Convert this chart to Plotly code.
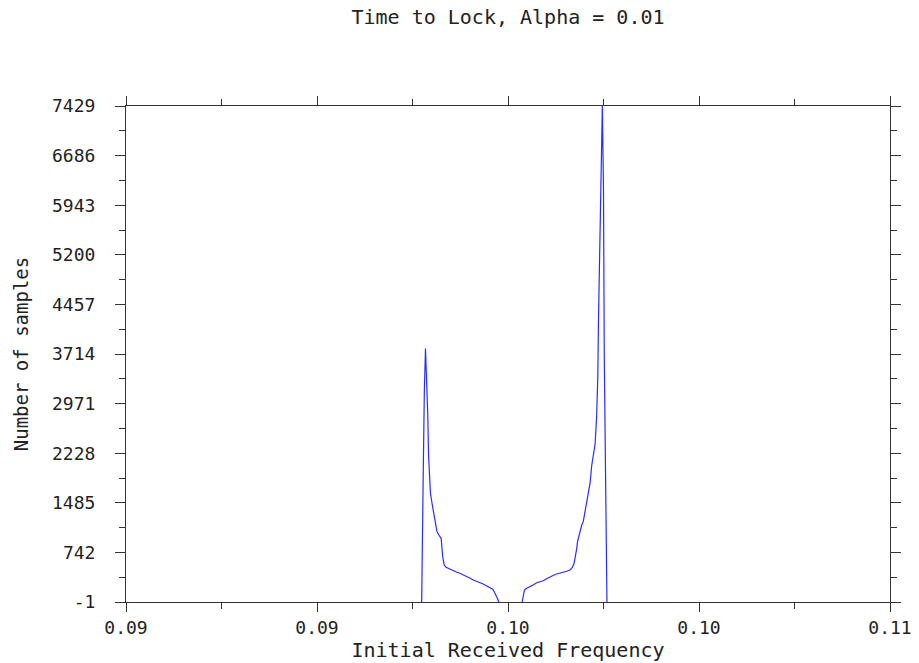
import plotly.graph_objects as go

# ---- data (None = no lock / line hidden on the baseline) ----
freq = [0.09774, 0.09775, 0.09778, 0.09781, 0.09784, 0.09786, 0.09788,
        0.09790, 0.09792, 0.09797, 0.09801, 0.09805, 0.09810, 0.09814, 0.09819,
        0.09825, 0.09829, 0.09833, 0.09838, 0.09848, 0.09857, 0.09866, 0.09874,
        0.09883, 0.09892, 0.09901, 0.09909, 0.09918, 0.09927, 0.09935, 0.09944,
        0.09953, 0.09960, 0.09964, 0.09969, 0.09972, 0.09976,
        None,
        0.10037, 0.10043, 0.10049, 0.10058, 0.10066, 0.10075, 0.10084, 0.10092,
        0.10101, 0.10110, 0.10119, 0.10127, 0.10136, 0.10145, 0.10154, 0.10162,
        0.10168, 0.10173, 0.10177, 0.10180, 0.10182, 0.10186, 0.10190, 0.10193,
        0.10197, 0.10202, 0.10206, 0.10210, 0.10215, 0.10219, 0.10223, 0.10228,
        0.10232, 0.10235, 0.10237, 0.10240, 0.10243, 0.10245, 0.10247, 0.10250,
        0.10252, 0.10256, 0.10259]
samples = [-1, 643, 1887, 3160, 3796, 3459, 3175,
           2800, 2201, 1632, 1482, 1347, 1227, 1055, 1003,
           953, 678, 553, 519, 489, 468, 444, 429,
           408, 378, 354, 329, 303, 288, 269, 243,
           219, 189, 153, 104, 54, -1,
           None,
           -1, 179, 204, 228, 254, 288, 303, 318,
           348, 378, 399, 418, 429, 444, 459, 478,
           513, 579, 678, 803, 902, 1003, 1078, 1152,
           1202, 1367, 1502, 1651, 1786, 2036, 2201, 2366,
           2775, 3350, 4273, 5531, 6171, 6800, 7429, 6171,
           3699, 1227, -1]

x_tickvals = [0.09, 0.095, 0.10, 0.105, 0.11]
x_ticktext = ["0.09", "0.09", "0.10", "0.10", "0.11"]
x_minorvals = [0.0925, 0.0975, 0.1025, 0.1075]
y_tickvals = [-1, 742, 1485, 2228, 2971, 3714, 4457, 5200, 5943, 6686, 7429]
y_ticktext = ["-1", "742", "1485", "2228", "2971", "3714", "4457", "5200", "5943", "6686", "7429"]
y_minorvals = [370.5, 1113.5, 1856.5, 2599.5, 3342.5, 4085.5, 4828.5, 5571.5, 6314.5, 7057.5]

FONT = "DejaVu Sans Mono"
AX = "#333333"
TXT = "#222222"

fig = go.Figure()
fig.add_trace(go.Scatter(x=freq, y=samples, mode="lines",
                         line=dict(color="#2b2bff", width=1.2),
                         connectgaps=False, showlegend=False, hoverinfo="x+y"))

fig.update_layout(
    width=919, height=663,
    margin=dict(l=126, r=29, t=106, b=61, autoexpand=False),
    paper_bgcolor="white", plot_bgcolor="white",
    font=dict(family=FONT, size=18, color=TXT),
    title=dict(text="Time to Lock, Alpha = 0.01", x=0.5, xref="paper",
               y=1 - 17 / 663, yref="container", yanchor="middle", xanchor="center",
               font=dict(family=FONT, size=20, color=TXT)),
)
fig.update_xaxes(
    range=[0.09, 0.11], tickmode="array", tickvals=x_tickvals, ticktext=x_ticktext,
    ticks="outside", ticklen=9, tickwidth=1, tickcolor=AX,
    minor=dict(tickmode="array", tickvals=x_minorvals, ticks="outside", ticklen=6,
               tickwidth=1, tickcolor=AX, showgrid=False),
    showline=True, linecolor=AX, linewidth=1, mirror="allticks",
    showgrid=False, zeroline=False, automargin=False,
    tickfont=dict(family=FONT, size=18, color=TXT),
    title=dict(text="Initial Received Frequency", standoff=4,
               font=dict(family=FONT, size=20, color=TXT)),
)
fig.update_yaxes(
    range=[-1, 7429], tickmode="array", tickvals=y_tickvals, ticktext=y_ticktext,
    ticks="outside", ticklen=10, tickwidth=1, tickcolor=AX,
    minor=dict(tickmode="array", tickvals=y_minorvals, ticks="outside", ticklen=6,
               tickwidth=1, tickcolor=AX, showgrid=False),
    showline=True, linecolor=AX, linewidth=1, mirror="allticks",
    showgrid=False, zeroline=False, automargin=False, ticklabelstandoff=16,
    tickfont=dict(family=FONT, size=18, color=TXT),
    title=dict(text="Number of samples", standoff=18,
               font=dict(family=FONT, size=19, color=TXT)),
)

fig.write_html("out.html", config={"displayModeBar": False},
               post_script="document.body.style.margin='0';document.body.style.padding='0';")
